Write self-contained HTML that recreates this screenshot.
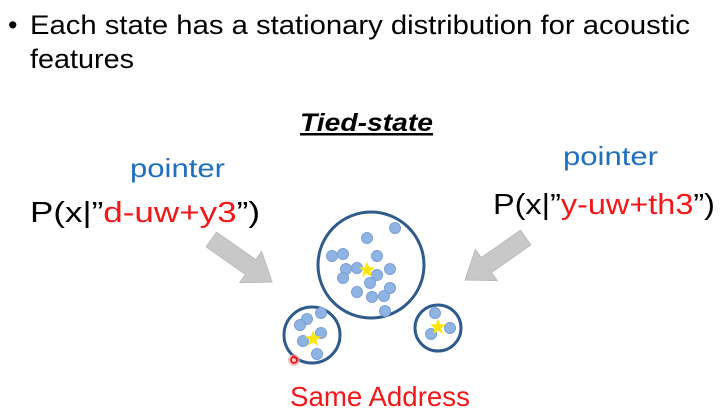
<!DOCTYPE html>
<html><head><meta charset="utf-8"><style>
body{margin:0;background:#fff;}
svg{display:block;font-family:"Liberation Sans",sans-serif;}
</style></head><body>
<svg width="721" height="414" viewBox="0 0 721 414">
<g font-size="27" fill="#000">
<text x="8" y="34">•</text>
<text x="30" y="34" textLength="660" lengthAdjust="spacingAndGlyphs">Each state has a stationary distribution for acoustic</text>
<text x="30" y="68" textLength="104" lengthAdjust="spacingAndGlyphs">features</text>
</g>
<text x="300" y="131" font-size="25" font-weight="bold" font-style="italic" text-decoration="underline" textLength="133" lengthAdjust="spacingAndGlyphs">Tied-state</text>
<text x="130" y="177" font-size="26" fill="#1f6fc0" textLength="95" lengthAdjust="spacingAndGlyphs">pointer</text>
<text x="563" y="165" font-size="26" fill="#1f6fc0" textLength="95" lengthAdjust="spacingAndGlyphs">pointer</text>
<text x="30" y="222" font-size="29" textLength="230" lengthAdjust="spacingAndGlyphs">P(x|”<tspan fill="#f01818">d-uw+y3</tspan>”)</text>
<text x="493" y="214" font-size="29" textLength="222" lengthAdjust="spacingAndGlyphs">P(x|”<tspan fill="#f01818">y-uw+th3</tspan>”)</text>
<g transform="translate(272,282) rotate(35)" fill="#c8c8c8" stroke="#bbb">
<polygon points="0,0 -26,-19 -26,-9 -74,-9 -74,9 -26,9 -26,19"/>
</g>
<g transform="translate(465,280) rotate(145)" fill="#c8c8c8" stroke="#bbb">
<polygon points="0,0 -26,-19 -26,-9 -74,-9 -74,9 -26,9 -26,19"/>
</g>
<g id="cl"></g>
<circle cx="294" cy="360" r="6" fill="#ff9a9a" opacity="0.6"/>
<circle cx="294" cy="360" r="3" fill="none" stroke="#e00" stroke-width="1.5"/>
<text x="290" y="406" font-size="28" fill="#f01818" textLength="180" lengthAdjust="spacingAndGlyphs">Same Address</text>
</svg>
<script>
const circles=[[371,265,53],[312,335,28],[438,328,23]];
const dots=[[395,228],[367,238],[332,256],[343,254],[377,256],[346,269],[357,268],[343,278],[390,269],[377,275],[370,283],[357,292],[372,297],[384,296],[390,288],[385,311],
[321,313],[307,319],[300,325],[321,333],[303,341],[317,354],
[435,313],[450,328],[431,334]];
const stars=[[367,270],[313,339],[438,327]];
const g=document.getElementById('cl');
const ns='http://www.w3.org/2000/svg';
circles.forEach(c=>{const e=document.createElementNS(ns,'circle');


e.setAttribute('cx',c[0]);e.setAttribute('cy',c[1]);e.setAttribute('r',c[2]);e.setAttribute('fill','none');e.setAttribute('stroke','#2f5b8c');e.setAttribute('stroke-width','3');g.appendChild(e);});
dots.forEach(d=>{const e=document.createElementNS(ns,'circle');


e.setAttribute('cx',d[0]);e.setAttribute('cy',d[1]);e.setAttribute('r',5.5);e.setAttribute('fill','#8fb3e3');e.setAttribute('stroke','#7aa0d6');g.appendChild(e);});
stars.forEach(s=>{const e=document.createElementNS(ns,'polygon');


let p=[];for(let i=0;i<10;i++){const r=i%2?3.5:8.5,a=-Math.PI/2+i*Math.PI/5;p.push((s[0]+r*Math.cos(a)).toFixed(1)+','+(s[1]+r*Math.sin(a)).toFixed(1));}
e.setAttribute('points',p.join(' '));e.setAttribute('fill','#ffe600');g.appendChild(e);});
</script>
</body></html>
